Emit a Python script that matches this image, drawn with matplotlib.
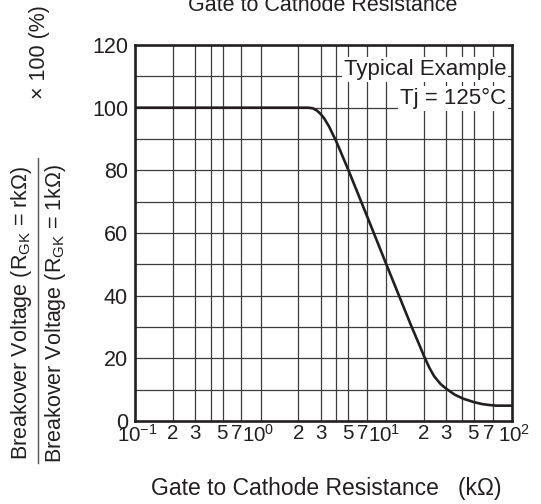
import numpy as np
import matplotlib.pyplot as plt
import matplotlib.transforms as mtransforms
from matplotlib.ticker import FixedLocator, NullFormatter, NullLocator
from matplotlib.lines import Line2D

plt.rcParams['font.family'] = ['Liberation Sans', 'DejaVu Sans']
plt.rcParams['mathtext.fontset'] = 'custom'
plt.rcParams['mathtext.rm'] = 'Liberation Sans'
plt.rcParams['mathtext.it'] = 'Liberation Sans'
plt.rcParams['mathtext.default'] = 'rm'

# 读图所得数据：门极-阴极电阻 (kΩ) 与 转折电压比 (%)
r_gk = [0.1, 2.4, 2.6, 2.8, 3.0, 3.2, 3.5, 4.0, 5.0, 7.0, 10.0, 14.0, 16.0,
        18.0, 20.0, 22.0, 24.0, 27.0, 30.0, 35.0, 41.0, 50.0, 58.0, 66.0,
        75.0, 100.0]
vbo_ratio = [100, 100, 99.8, 99.1, 98.0, 96.6, 94.0, 89.2, 80, 65.5, 50, 35.5,
             29.8, 25.0, 20.6, 17.0, 14.3, 11.8, 10.3, 8.4, 7.1, 6.0, 5.4,
             5.1, 4.9, 4.9]

x_major = [0.1, 1, 10, 100]
x_major_labels = ['$10^{\u22121}$', '$10^0$', '$10^1$', '$10^2$']
x_minor = [d * m for d in [0.1, 1, 10] for m in (2, 3, 5, 7)]
x_minor_labels = [str(m) for d in [0.1, 1, 10] for m in (2, 3, 5, 7)]
x_grid_extra = [d * 4 for d in [0.1, 1, 10]]
y_ticks = [0, 20, 40, 60, 80, 100, 120]

FS = 15.5
XFS = 14.8
INK = '#231f20'
GRID = '#3c3c3c'

fig = plt.figure(figsize=(5.41, 5.04), dpi=100)
ax = fig.add_axes([0.2495, 0.1647, 0.6969, 0.746])

ax.set_xscale('log')
ax.set_xlim(0.1, 100)
ax.set_ylim(0, 120)

# 网格线
for xv in x_major + x_minor + x_grid_extra:
    ax.axvline(xv, color=GRID, lw=0.9, zorder=1)
for yv in range(10, 120, 10):
    ax.axhline(yv, color=GRID, lw=0.9, zorder=1)

ax.plot(r_gk, vbo_ratio, color=INK, lw=1.9, zorder=3, solid_capstyle='round')

ax.xaxis.set_major_locator(FixedLocator(x_major))
ax.xaxis.set_minor_locator(NullLocator())
ax.xaxis.set_major_formatter(NullFormatter())
ax.set_yticks(y_ticks)
ax.yaxis.set_minor_locator(NullLocator())
ax.tick_params(axis='both', which='both', length=0, labelsize=FS, colors=INK, pad=5)

# x 刻度标签（原图中 7 与中间的十进位标签略向左挤）
base = ax.get_xaxis_transform()
def shifted(dx_px):
    return base + mtransforms.ScaledTranslation(dx_px / 100, -3 / 100, fig.dpi_scale_trans)

for xv, lab in zip(x_major, x_major_labels):
    dx = -2 if xv in (1, 10) else 2
    ax.text(xv, 0, lab, transform=shifted(dx), ha='center', va='top',
            fontsize=XFS, color=INK)
for xv, lab in zip(x_minor, x_minor_labels):
    dx = -4 if lab == '7' else (-1 if lab == '5' else 0)
    ax.text(xv, 0, lab, transform=shifted(dx), ha='center', va='top',
            fontsize=XFS, color=INK)

for sp in ax.spines.values():
    sp.set_linewidth(1.9)
    sp.set_color(INK)
    sp.set_zorder(4)

# 注释框
box = dict(facecolor='white', edgecolor='none', pad=1.5)
ax.text(0.985, 0.935, 'Typical Example', transform=ax.transAxes, ha='right',
        va='center', fontsize=16, color=INK, bbox=box, zorder=5)
ax.text(0.985, 0.858, 'Tj = 125\u00b0C', transform=ax.transAxes, ha='right',
        va='center', fontsize=16, color=INK, bbox=box, zorder=5)

# 标题（被裁掉一半）
fig.text(0.597, 1 - 11 / 504, 'Gate to Cathode Resistance', ha='center',
         va='baseline', fontsize=FS, color=INK)

# x 轴标签
fig.text(0.6035, 1 - 488 / 504, 'Gate to Cathode Resistance   (k\u03a9)', ha='center',
         va='center', fontsize=16.5, color=INK)

# y 轴标签：分式
yc = 1 - 313 / 504
fig.text(22 / 541, yc, 'Breakover Voltage (R$_{\\mathrm{GK}}$ = rk\u03a9)', rotation=90,
         ha='center', va='center', fontsize=FS, color=INK)
fig.text(55 / 541, yc, 'Breakover Voltage (R$_{\\mathrm{GK}}$ = 1k\u03a9)', rotation=90,
         ha='center', va='center', fontsize=FS, color=INK)
fig.add_artist(Line2D([38 / 541, 38 / 541], [1 - 463 / 504, 1 - 158 / 504],
                      transform=fig.transFigure, color='#555555', lw=1.0))
fig.text(39 / 541, 1 - 52 / 504, '\u00d7 100 (%)', rotation=90,
         ha='center', va='center', fontsize=FS, color=INK)

fig.savefig('out.png', dpi=100)
